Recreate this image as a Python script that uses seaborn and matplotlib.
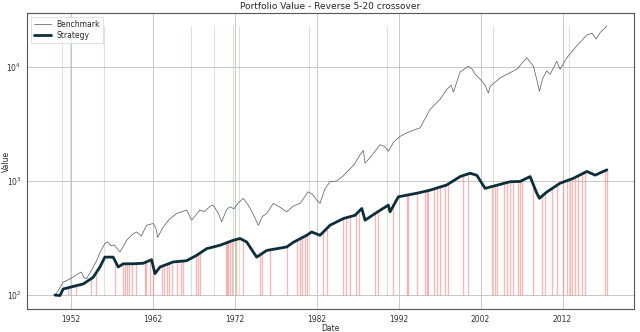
import numpy as np
import pandas as pd
import matplotlib
matplotlib.use("Agg")
import matplotlib.pyplot as plt
import seaborn as sns

# ---- data (decimal years, values) ----
bench_years = [1950.05, 1950.4, 1951.06, 1951.5, 1952.3, 1952.9, 1953.3, 1953.6, 1953.9, 1954.5,
               1955.14, 1955.6, 1956.15, 1956.52, 1956.9, 1957.3, 1957.98, 1958.5, 1958.8, 1959.5,
               1960.02, 1960.6, 1961.24, 1962.05, 1962.4, 1962.59, 1963.27, 1964.0, 1964.91, 1966.13,
               1966.74, 1967.75, 1968.3, 1969.0, 1969.37, 1970.0, 1970.4, 1971.0, 1971.41, 1971.9,
               1972.4, 1973.04, 1973.6, 1974.2, 1974.87, 1975.4, 1975.9, 1976.7, 1977.5, 1978.34,
               1979.1, 1979.96, 1980.5, 1980.97, 1981.5, 1982.0, 1982.4, 1983.0, 1983.62, 1984.44,
               1985.2, 1986.07, 1986.6, 1987.3, 1987.69, 1987.9, 1988.5, 1989.33, 1989.73, 1990.3,
               1990.74, 1991.4, 1992.17, 1993.3, 1994.61, 1995.83, 1997.05, 1997.87, 1998.4, 1998.68,
               1999.5, 2000.51, 2001.0, 2001.33, 2001.94, 2002.5, 2002.95, 2003.16, 2004.38, 2005.5,
               2006.42, 2007.64, 2008.45, 2008.9, 2009.18, 2009.6, 2010.08, 2010.5, 2011.3, 2011.7,
               2012.52, 2013.75, 2014.97, 2015.6, 2016.1, 2016.6, 2017.41]
bench_values = [100, 108, 130, 134, 144, 154, 159, 142, 139, 164,
                200, 240, 283, 292, 270, 275, 238, 275, 302, 340,
                357, 330, 409, 424, 380, 320, 395, 460, 519, 555,
                453, 555, 540, 600, 614, 520, 438, 560, 594, 570,
                640, 704, 620, 520, 409, 490, 519, 636, 590, 536,
                600, 636, 720, 803, 760, 680, 636, 850, 984, 1000,
                1100, 1280, 1400, 1700, 1850, 1430, 1600, 1900, 2078, 2000,
                1818, 2200, 2457, 2700, 2920, 4225, 5190, 6330, 6900, 6000,
                9000, 10120, 9500, 8630, 7800, 7000, 5900, 6730, 8000, 8800,
                9530, 12000, 10120, 7500, 6100, 8000, 9200, 8600, 11200, 9530,
                12000, 15300, 19000, 19700, 17500, 20000, 22800]

strat_years = [1950.05, 1950.66, 1951.06, 1952.7, 1953.5, 1954.72, 1955.54, 1956.15, 1957.16, 1957.78,
               1958.39, 1959.61, 1960.83, 1961.85, 1962.26, 1962.87, 1964.49, 1966.13, 1967.35, 1968.57,
               1970.19, 1971.82, 1972.64, 1973.45, 1974.67, 1975.9, 1978.34, 1979.15, 1980.78, 1981.39,
               1982.4, 1983.62, 1985.25, 1986.68, 1987.5, 1987.9, 1989.33, 1990.74, 1990.95, 1991.96,
               1994.21, 1995.83, 1997.87, 1999.5, 2000.72, 2001.54, 2002.55, 2003.56, 2005.6, 2006.82,
               2008.04, 2008.86, 2009.18, 2010.08, 2011.7, 2013.33, 2014.97, 2015.98, 2017.41]
strat_values = [100, 99, 113, 121, 125, 143, 176, 215, 215, 176,
                188, 188, 190, 204, 154, 176, 195, 200, 223, 255,
                273, 302, 313, 292, 215, 246, 264, 290, 334, 357,
                334, 409, 468, 500, 574, 453, 530, 614, 536, 726,
                780, 830, 922, 1092, 1168, 1120, 861, 900, 984, 990,
                1092, 780, 704, 800, 955, 1055, 1210, 1124, 1250]

buy_years = [1950.94, 1951.95, 1956.0, 1966.6, 1969.5, 1971.8, 1972.5, 1981.05, 1990.55, 2003.5, 2012.8]
sell_years = [1951.7, 1952.6, 1954.4, 1955.05, 1957.4, 1958.3, 1958.6, 1958.9, 1959.1, 1959.4,
              1959.9, 1961.0, 1961.2, 1961.6, 1962.0, 1963.1, 1963.4, 1963.7, 1964.0, 1964.3,
              1964.9, 1965.4, 1965.7, 1967.3, 1967.5, 1967.75, 1970.9, 1971.0, 1971.2, 1971.4,
              1971.7, 1972.2, 1973.0, 1975.1, 1975.3, 1976.3, 1978.4, 1979.6, 1980.0, 1980.2,
              1980.6, 1980.8, 1982.8, 1983.2, 1985.25, 1985.6, 1986.1, 1986.8, 1987.1, 1989.1,
              1989.5, 1991.35, 1993.0, 1993.2, 1994.2, 1995.2, 1995.4, 1995.6, 1996.3, 1996.65,
              1997.05, 1997.67, 1998.07, 1999.9, 2000.5, 2003.4, 2003.8, 2004.0, 2004.8, 2005.2,
              2005.6, 2006.0, 2006.6, 2006.8, 2007.0, 2008.4, 2009.5, 2009.9, 2010.7, 2011.3,
              2012.1, 2012.5, 2012.9, 2013.1, 2013.5, 2013.9, 2014.35, 2014.76, 2017.2, 2017.4]

tick_years = [1952, 1962, 1972, 1982, 1992, 2002, 2012]
tick_labels = ["1952", "1962", "1972", "1982", "1992", "2002", "2012"]

# ---- plot ----
sns.set_style("white")
plt.rcParams['font.family'] = ['DejaVu Sans']

fig = plt.figure(figsize=(6.4, 3.32), dpi=100)
ax = fig.add_axes([0.042, 0.069, 0.949, 0.892])

bench_df = pd.DataFrame({"Date": bench_years, "Value": bench_values})
strat_df = pd.DataFrame({"Date": strat_years, "Value": strat_values})

vmin = 100
vtop = max(bench_values)
ax.vlines(buy_years, vmin, vtop, colors="#2ca02c", alpha=0.22, linewidth=0.8, zorder=1)
sell_tops = np.interp(sell_years, strat_years, strat_values)
ax.vlines(sell_years, vmin, sell_tops, colors="#f08080", alpha=0.55, linewidth=1.0, zorder=1)

sns.lineplot(data=bench_df, x="Date", y="Value", ax=ax, color="#555555", linewidth=0.5,
             label="Benchmark", zorder=3)
sns.lineplot(data=strat_df, x="Date", y="Value", ax=ax, color="#0b2e3a", linewidth=2.0,
             label="Strategy", zorder=4)

ax.set_yscale("log")
ax.set_xlim(1946.63, 2020.75)
ax.set_ylim(10 ** 1.877, 10 ** 4.472)
ax.set_xticks(tick_years)
ax.set_xticklabels(tick_labels)
ax.grid(True, which="major", color="#c8c8c8", linewidth=0.7)
ax.tick_params(labelsize=5.5, length=2.5, width=0.6, colors="#333333", pad=1.5)
ax.tick_params(which="minor", length=1.5, width=0.5)
for s in ax.spines.values():
    s.set_color("#555555")
    s.set_linewidth(0.8)

ax.set_title("Portfolio Value - Reverse 5-20 crossover", fontsize=6.5, pad=3)
ax.set_xlabel("Date", fontsize=5.5)
ax.set_ylabel("Value", fontsize=5.5)
ax.xaxis.set_label_coords(0.5, -0.052)
ax.yaxis.set_label_coords(-0.027, 0.5)
leg = ax.legend(loc="upper left", fontsize=5.5, frameon=True, fancybox=False,
                borderpad=0.4, handlelength=2.2, labelspacing=0.3)
leg.get_frame().set_linewidth(0.5)
leg.get_frame().set_edgecolor("#cccccc")

fig.savefig("out.png", dpi=100)
